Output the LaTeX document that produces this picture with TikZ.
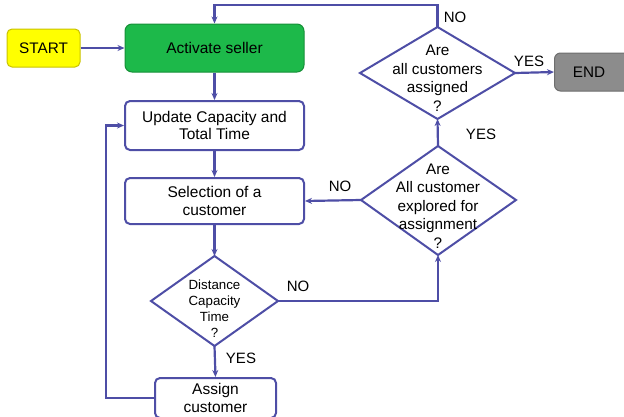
\documentclass[tikz,border=0pt]{standalone}
\usepackage{fontspec}
\setmainfont{Liberation Sans}
\usetikzlibrary{shapes.geometric,arrows.meta}
\definecolor{ln}{HTML}{4E4EA6}
\definecolor{grn}{HTML}{1DB94A}
\definecolor{grnb}{HTML}{169038}
\definecolor{yel}{HTML}{FFFF00}
\definecolor{yelb}{HTML}{C9C200}
\definecolor{gry}{HTML}{8C8C8C}
\definecolor{gryb}{HTML}{6E6E6E}
\tikzset{
  x=1pt,y=-1pt,
  conn/.style={draw=ln,line width=2.2pt,-{Stealth[length=7pt,width=6pt]}},
  procbox/.style={draw=ln,line width=2pt,fill=white,rounded corners=5pt,align=center,font=\fontsize{15.5}{17.5}\selectfont,inner sep=0pt},
  dshape/.style={draw=ln,line width=2pt,fill=white,line join=miter},
  dtext/.style={align=center,font=\fontsize{15.3}{18.5}\selectfont,inner sep=0pt},
  lbl/.style={font=\fontsize{15}{17}\selectfont,inner sep=0pt}
}
\begin{document}
\begin{tikzpicture}
\useasboundingbox (0,0) rectangle (624,416);
% nodes
\node[draw=yelb,line width=1pt,fill=yel,rounded corners=5pt,minimum width=73pt,minimum height=38pt,font=\fontsize{15.3}{17}\selectfont] (start) at (43.5,48) {START};
\node[draw=grnb,line width=1pt,fill=grn,rounded corners=7pt,minimum width=179pt,minimum height=48pt,font=\fontsize{15.5}{17}\selectfont] (act) at (214.5,48) {Activate seller};
\node[procbox,minimum width=179pt,minimum height=49pt] (upd) at (214.5,125.5) {Update Capacity and\\Total Time};
\node[procbox,minimum width=179pt,minimum height=46pt] (sel) at (214.5,201) {Selection of a\\customer};
\node[procbox,minimum width=121pt,minimum height=40pt] (asg) at (215.5,398) {Assign\\customer};
\node[draw=gryb,line width=1pt,fill=gry,rounded corners=6pt,minimum width=80pt,minimum height=38pt,font=\fontsize{15.3}{17}\selectfont,anchor=west] (end) at (554,72) {\hspace*{-11pt}END};
% diamond 1
\coordinate (d1t) at (437.5,27);
\coordinate (d1b) at (437.5,119);
\coordinate (d1l) at (360,73);
\coordinate (d1r) at (515,73);
\draw[dshape] (d1t) -- (d1r) -- (d1b) -- (d1l) -- cycle;
\node[dtext] (d1) at (437.5,78) {Are\\all customers\\assigned\\?};
% diamond 2
\coordinate (d2t) at (438,146);
\coordinate (d2b) at (438,255);
\coordinate (d2l) at (361,200);
\coordinate (d2r) at (516,200);
\draw[dshape] (d2t) -- (d2r) -- (d2b) -- (d2l) -- cycle;
\node[dtext] (d2) at (438,206) {Are\\All customer\\explored for\\assignment\\?};
% diamond 3
\coordinate (d3t) at (214.5,256);
\coordinate (d3b) at (214.5,346);
\coordinate (d3l) at (151,301);
\coordinate (d3r) at (278,301);
\draw[dshape] (d3t) -- (d3r) -- (d3b) -- (d3l) -- cycle;
\node[align=center,font=\fontsize{13.3}{16}\selectfont,inner sep=0pt] (d3) at (214.5,309) {Distance\\Capacity\\Time\\?};
% connectors
\draw[conn] (start) -- (act);
\draw[conn] (act) -- (upd);
\draw[conn] (upd) -- (sel);
\draw[conn] (sel.south) -- (d3t);
\draw[conn] (d3b) -- (asg.north);
\draw[conn] (asg.west) -- ++(-48,0) |- (upd.west);
\draw[conn] (d3r) -| (d2b);
\draw[conn] (d2l) -- (sel.east);
\draw[conn] (d2t) -- (d1b);
\draw[conn] (d1r) -- (end.west);
\draw[conn] (d1t) -- (437.5,5) -| (act.north);
% labels
\node[lbl] (ly1) at (529,61) {YES};
\node[lbl] (ly2) at (481,134) {YES};
\node[lbl] (ln1) at (455,17) {NO};
\node[lbl] (ln2) at (340,186) {NO};
\node[lbl] (ln3) at (298,286) {NO};
\node[lbl] (ly3) at (241,358) {YES};
\end{tikzpicture}
\end{document}
